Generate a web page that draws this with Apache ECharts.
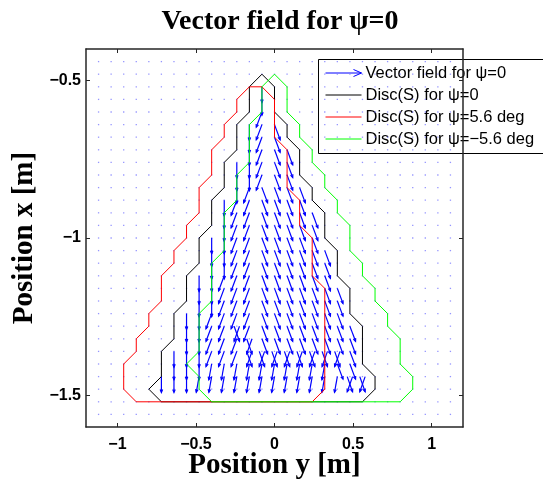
<!DOCTYPE html>
<html>
<head>
<meta charset="utf-8">
<script src="https://cdn.jsdelivr.net/npm/echarts@6/dist/echarts.min.js"></script>
<style>
  html, body { margin: 0; padding: 0; background: #fff; }
  #chart { width: 543px; height: 481px; }
</style>
</head>
<body>
<div id="chart"></div>
<script>
// quiver grid (position y across, position x up)
var gridY = [-1.12, -1.04, -0.96, -0.88, -0.80, -0.72, -0.64, -0.56, -0.48, -0.40,
    -0.32, -0.24, -0.16, -0.08, 0, 0.08, 0.16, 0.24, 0.32, 0.40,
    0.48, 0.56, 0.64, 0.72, 0.80, 0.88, 0.96, 1.04, 1.12];
var gridX = [-0.44, -0.48, -0.52, -0.56, -0.60, -0.64, -0.68, -0.72, -0.76, -0.80,
    -0.84, -0.88, -0.92, -0.96, -1.00, -1.04, -1.08, -1.12, -1.16, -1.20,
    -1.24, -1.28, -1.32, -1.36, -1.40, -1.44, -1.48, -1.52, -1.56];

// rows of the field that carry arrows: x of the row, y of the first arrow, one code per arrow
var fieldRowX = [-0.52, -0.56, -0.60, -0.64, -0.68, -0.72, -0.76, -0.80, -0.84, -0.88,
    -0.92, -0.96, -1.00, -1.04, -1.08, -1.12, -1.16, -1.20, -1.24, -1.28,
    -1.32, -1.36, -1.40, -1.44];
var fieldRowStart = [-0.08, -0.08, -0.08, -0.16, -0.16, -0.16, -0.24, -0.24, -0.24, -0.32,
    -0.32, -0.32, -0.40, -0.40, -0.40, -0.48, -0.48, -0.48, -0.56, -0.56,
    -0.56, -0.64, -0.64, -0.72];
var fieldRowCodes = ['v', 'v', 'l', 'vlr', 'vlr', 'vlrr', 'vvlrr', 'vvlrr', 'vlrrrr', 'vllrrrr',
    'vllrrrrr', 'vllrrrrr', 'vvllrrrrr', 'vvllrrrrrr', 'vvllrrrrrr', 'vvlllrrrrrr',
    'vvlllrrrrrrr', 'vvlllrrrrrrr', 'vvllllrrrrrrr', 'vvllxlrrrrrrrr', 'vvlllxrrrrrrrr',
    'vvvlllxxxxxxxxr', 'vvvkkkkkkkkkkrr', 'vvvkkkkkkkkkkkkxx'];
// code -> arrows [tail offset in y, dy, dx]
var arrowCodes = {
    v: [[0, 0, -0.05]],
    l: [[0, -0.036, -0.048]],
    r: [[0, 0.036, -0.048]],
    k: [[0, -0.018, -0.05]],
    x: [[-0.017, 0.034, -0.048], [0.017, -0.034, -0.048]]
};

// Disc(S) outlines, [position y, position x]
var discPsi0 = [[-0.08,-0.48],[0,-0.52],[0,-0.60],[0.08,-0.64],[0.08,-0.68],[0.16,-0.72],[0.16,-0.80],
    [0.24,-0.84],[0.24,-0.88],[0.32,-0.92],[0.32,-1.00],[0.40,-1.04],[0.40,-1.12],[0.48,-1.16],
    [0.48,-1.24],[0.56,-1.28],[0.56,-1.40],[0.64,-1.44],[0.64,-1.48],[0.56,-1.52],[-0.72,-1.52],
    [-0.80,-1.48],[-0.72,-1.44],[-0.72,-1.36],[-0.64,-1.32],[-0.64,-1.24],[-0.56,-1.20],[-0.56,-1.12],
    [-0.48,-1.08],[-0.48,-1.00],[-0.40,-0.96],[-0.40,-0.88],[-0.32,-0.84],[-0.32,-0.76],[-0.24,-0.72],
    [-0.24,-0.64],[-0.16,-0.60],[-0.16,-0.52],[-0.08,-0.48]];
var discPsiPlus = [[-0.16,-0.52],[-0.08,-0.52],[0,-0.56],[0,-0.68],[0.08,-0.72],[0.08,-0.84],[0.16,-0.88],
    [0.16,-0.96],[0.24,-1.00],[0.24,-1.12],[0.32,-1.16],[0.32,-1.48],[0.24,-1.52],[-0.88,-1.52],
    [-0.96,-1.48],[-0.96,-1.40],[-0.88,-1.36],[-0.88,-1.32],[-0.80,-1.28],[-0.80,-1.24],[-0.72,-1.20],
    [-0.72,-1.12],[-0.64,-1.08],[-0.64,-1.04],[-0.56,-1.00],[-0.56,-0.96],[-0.48,-0.92],[-0.48,-0.84],
    [-0.40,-0.80],[-0.40,-0.72],[-0.32,-0.68],[-0.32,-0.64],[-0.24,-0.60],[-0.24,-0.56],[-0.16,-0.52]];
var discPsiMinus = [[0,-0.48],[0.08,-0.52],[0.08,-0.60],[0.16,-0.64],[0.16,-0.68],[0.24,-0.72],[0.24,-0.76],
    [0.32,-0.80],[0.32,-0.84],[0.40,-0.88],[0.40,-0.92],[0.48,-0.96],[0.48,-1.04],[0.56,-1.08],
    [0.56,-1.12],[0.64,-1.16],[0.64,-1.20],[0.72,-1.24],[0.72,-1.28],[0.80,-1.32],[0.80,-1.40],
    [0.88,-1.44],[0.88,-1.48],[0.80,-1.52],[-0.40,-1.52],[-0.48,-1.48],[-0.48,-1.44],[-0.56,-1.40],
    [-0.48,-1.36],[-0.48,-1.24],[-0.40,-1.20],[-0.40,-1.08],[-0.32,-1.04],[-0.32,-0.92],[-0.24,-0.88],
    [-0.24,-0.80],[-0.16,-0.76],[-0.16,-0.64],[-0.08,-0.60],[-0.08,-0.52],[0,-0.48]];

var xTicks = [-1, -0.5, 0, 0.5, 1];
var yTicks = [-1.5, -1, -0.5];

var legendNames = ['Vector field for \u03c8=0', 'Disc(S) for \u03c8=0',
    'Disc(S) for \u03c8=5.6 deg', 'Disc(S) for \u03c8=\u22125.6 deg'];

// build series data
var dots = [];
gridX.forEach(function(x) {
    gridY.forEach(function(y) { dots.push([y, x]); });
});
var step = gridY[1] - gridY[0];
var arrows = [];
fieldRowCodes.forEach(function(codes, r) {
    for (var c = 0; c < codes.length; c++) {
        var y0 = fieldRowStart[r] + c * step;
        arrowCodes[codes[c]].forEach(function(a) {
            arrows.push([y0 + a[0], fieldRowX[r], a[1], a[2]]);
        });
    }
});

function minusFmt(v) {
    return (v < 0 ? '\u2212' : '') + Math.abs(v);
}

function renderArrow(params, api) {
    var p0 = api.coord([api.value(0), api.value(1)]);
    var p1 = api.coord([api.value(0) + api.value(2), api.value(1) + api.value(3)]);
    var ang = Math.atan2(p1[1] - p0[1], p1[0] - p0[0]);
    var h = 3.2, a = 0.4;
    var h1 = [p1[0] - h * Math.cos(ang - a), p1[1] - h * Math.sin(ang - a)];
    var h2 = [p1[0] - h * Math.cos(ang + a), p1[1] - h * Math.sin(ang + a)];
    var st = { stroke: '#0000ff', lineWidth: 1.2, fill: null };
    return {
        type: 'group',
        children: [
            { type: 'polyline', shape: { points: [p0, p1] }, style: st },
            { type: 'polyline', shape: { points: [h1, p1, h2] }, style: st }
        ]
    };
}

var axisLineStyle = { color: '#262626', width: 1.5 };
var tickStyle = { color: '#262626', width: 1 };
var nameFont = { fontFamily: 'Liberation Serif', fontWeight: 'bold', fontSize: 29, color: '#000' };

var myChart = echarts.init(document.getElementById('chart'));
myChart.setOption({
    backgroundColor: '#fff',
    animation: false,
    title: {
        text: 'Vector field for \u03c8=0',
        left: 275,
        textAlign: 'center',
        top: 3,
        textStyle: { fontFamily: 'Liberation Serif', fontWeight: 'bold', fontSize: 28, color: '#000' }
    },
    grid: { left: 86, top: 49, width: 377, height: 378, outerBoundsMode: 'none' },
    xAxis: [{
        type: 'value', min: -1.2, max: 1.2, position: 'bottom',
        name: 'Position y [m]', nameLocation: 'middle', nameGap: 24, nameMoveOverlap: false,
        nameTextStyle: nameFont,
        axisLine: { show: true, onZero: false, lineStyle: axisLineStyle },
        axisTick: { show: true, inside: true, length: 4, customValues: xTicks, lineStyle: tickStyle },
        axisLabel: { customValues: xTicks, formatter: minusFmt, margin: 10, fontFamily: 'Liberation Sans',
            fontWeight: 'bold', fontSize: 16, color: '#000' },
        splitLine: { show: false }
    }, {
        type: 'value', min: -1.2, max: 1.2, position: 'top',
        axisLine: { show: true, onZero: false, lineStyle: axisLineStyle },
        axisTick: { show: true, inside: true, length: 4, customValues: xTicks, lineStyle: tickStyle },
        axisLabel: { show: false },
        splitLine: { show: false }
    }],
    yAxis: [{
        type: 'value', min: -1.6, max: -0.4, position: 'left',
        name: 'Position x [m]', nameLocation: 'middle', nameGap: 47, nameMoveOverlap: false,
        nameTextStyle: nameFont,
        axisLine: { show: true, onZero: false, lineStyle: axisLineStyle },
        axisTick: { show: true, inside: true, length: 4, customValues: yTicks, lineStyle: tickStyle },
        axisLabel: { customValues: yTicks, formatter: minusFmt, margin: 5, fontFamily: 'Liberation Sans',
            fontWeight: 'bold', fontSize: 16, color: '#000' },
        splitLine: { show: false }
    }, {
        type: 'value', min: -1.6, max: -0.4, position: 'right',
        axisLine: { show: true, onZero: false, lineStyle: axisLineStyle },
        axisTick: { show: true, inside: true, length: 4, customValues: yTicks, lineStyle: tickStyle },
        axisLabel: { show: false },
        splitLine: { show: false }
    }],
    series: [{
        name: 'grid',
        type: 'scatter',
        symbol: 'rect',
        symbolSize: 1.3,
        silent: true,
        itemStyle: { color: '#7a7aff' },
        data: dots,
        z: 1
    }, {
        name: legendNames[0],
        type: 'custom',
        renderItem: renderArrow,
        data: arrows,
        silent: true,
        z: 2
    }, {
        name: legendNames[1],
        type: 'line',
        data: discPsi0,
        showSymbol: false,
        lineStyle: { color: '#000000', width: 1 },
        z: 3
    }, {
        name: legendNames[2],
        type: 'line',
        data: discPsiPlus,
        showSymbol: false,
        lineStyle: { color: '#ff0000', width: 1 },
        z: 3
    }, {
        name: legendNames[3],
        type: 'line',
        data: discPsiMinus,
        showSymbol: false,
        lineStyle: { color: '#00ff00', width: 1 },
        z: 3
    }],
    // legend box drawn by hand, it runs off the right edge like the original
    graphic: [{
        type: 'group', left: 318, top: 59, z: 100,
        children: [
            { type: 'rect', shape: { x: 0, y: 0, width: 250, height: 94 },
              style: { fill: '#fff', stroke: '#000', lineWidth: 1 } },
            { type: 'polyline', shape: { points: [[7, 13.5], [43, 13.5]] }, style: { stroke: '#0000ff', lineWidth: 1 } },
            { type: 'polyline', shape: { points: [[35, 10], [43, 13.5], [35, 17]] }, style: { stroke: '#0000ff', lineWidth: 1, fill: null } },
            { type: 'polyline', shape: { points: [[7, 35.5], [43, 35.5]] }, style: { stroke: '#000000', lineWidth: 1 } },
            { type: 'polyline', shape: { points: [[7, 57.5], [43, 57.5]] }, style: { stroke: '#ff0000', lineWidth: 1 } },
            { type: 'polyline', shape: { points: [[7, 79.5], [43, 79.5]] }, style: { stroke: '#00ff00', lineWidth: 1 } },
            { type: 'text', x: 47, y: 13.5, style: { text: legendNames[0], fontFamily: 'Liberation Sans', fontSize: 16.5, fill: '#000', verticalAlign: 'middle' } },
            { type: 'text', x: 47, y: 35.5, style: { text: legendNames[1], fontFamily: 'Liberation Sans', fontSize: 16.5, fill: '#000', verticalAlign: 'middle' } },
            { type: 'text', x: 47, y: 57.5, style: { text: legendNames[2], fontFamily: 'Liberation Sans', fontSize: 16.5, fill: '#000', verticalAlign: 'middle' } },
            { type: 'text', x: 47, y: 79.5, style: { text: legendNames[3], fontFamily: 'Liberation Sans', fontSize: 16.5, fill: '#000', verticalAlign: 'middle' } }
        ]
    }]
});
</script>
</body>
</html>
